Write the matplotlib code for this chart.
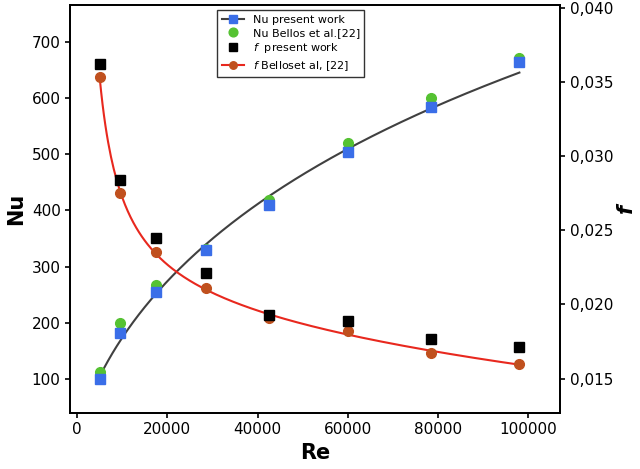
import numpy as np
import matplotlib.pyplot as plt
from matplotlib.ticker import FuncFormatter

re = [5000, 9500, 17500, 28500, 42500, 60000, 78500, 98000]
nu_present = [100, 182, 254, 330, 409, 504, 584, 664]
nu_bellos = [112, 200, 268, 332, 419, 520, 600, 671]
f_present = [0.0362, 0.0284, 0.0245, 0.0221, 0.0193, 0.0189, 0.0177, 0.0171]
f_bellos = [0.0353, 0.0275, 0.0235, 0.0211, 0.0191, 0.0182, 0.0167, 0.0160]

fig, ax = plt.subplots(figsize=(6.4, 4.69), dpi=100)
fig.subplots_adjust(left=0.11, right=0.875, top=0.99, bottom=0.12)
ax2 = ax.twinx()

# smooth fits in log-log space for the curves
x = np.linspace(min(re), max(re), 300)
c1 = np.polyfit(np.log(re), np.log(nu_present), 2)
ax.plot(x, np.exp(np.polyval(c1, np.log(x))), color='#404040', lw=1.5, zorder=1)
c2 = np.polyfit(np.log(re), np.log(f_bellos), 3)
ax2.plot(x, np.exp(np.polyval(c2, np.log(x))), color='#e8281e', lw=1.5, zorder=1)

h1, = ax.plot(re, nu_present, 's', color='#3a6ee8', ms=7, zorder=3)
h2, = ax.plot(re, nu_bellos, 'o', color='#55c232', ms=7, zorder=2)
h3, = ax2.plot(re, f_present, 's', color='black', ms=7, zorder=3)
h4, = ax2.plot(re, f_bellos, 'o', color='#c0501e', ms=7, zorder=2)

ax.set_xlim(-1500, 107000)
ax.set_ylim(40, 766)
ax2.set_ylim(0.0127, 0.0402)
ax.set_xticks(range(0, 100001, 20000))
ax.set_yticks(range(100, 701, 100))
ax2.set_yticks([0.015, 0.020, 0.025, 0.030, 0.035, 0.040])
ax2.yaxis.set_major_formatter(FuncFormatter(lambda v, p: f'{v:.3f}'.replace('.', ',')))
for a_ in (ax, ax2):
    a_.tick_params(labelsize=11, width=1.2)
    for s in a_.spines.values():
        s.set_linewidth(1.3)
ax.set_xlabel('Re', fontsize=15, fontweight='bold')
ax.set_ylabel('Nu', fontsize=15, fontweight='bold')
ax2.set_ylabel('f', fontsize=15, fontweight='bold', style='italic', labelpad=2)

l1 = plt.Line2D([], [], color='#404040', marker='s', mfc='#3a6ee8', mec='#3a6ee8', ms=6)
l4 = plt.Line2D([], [], color='#e8281e', marker='o', mfc='#c0501e', mec='#c0501e', ms=6)
ax2.legend([l1, h2, h3, l4],
           ['Nu present work', 'Nu Bellos et al.[22]', r'$f$  present work', r'$f$ Belloset al, [22]'],
           loc='upper center', bbox_to_anchor=(0.45, 1.0), fontsize=8, frameon=True,
           fancybox=False, edgecolor='black', handlelength=2, labelspacing=0.3, markerscale=0.9)
fig.savefig('out.png')
